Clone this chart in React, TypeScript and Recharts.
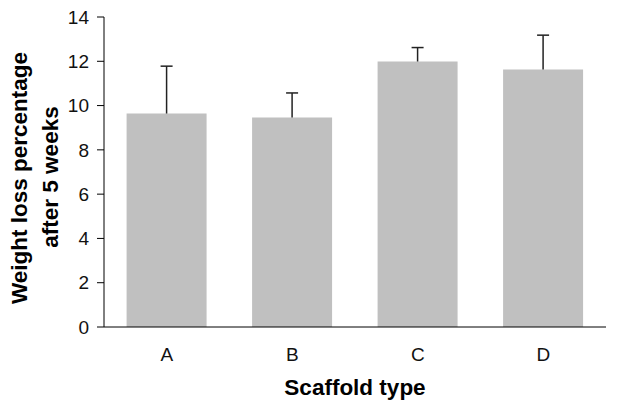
import React from "react";
import { BarChart, Bar, XAxis, YAxis, LabelList } from "recharts";

const scaffolds = ["A", "B", "C", "D"];
const weightLoss = [9.64, 9.46, 11.99, 11.63];
const errorUp = [2.14, 1.11, 0.63, 1.55];
const yTicks = [0, 2, 4, 6, 8, 10, 12, 14];
const boundaryTicks = [0, 1, 2, 3, 4];

const data = scaffolds.map((s, i) => ({
  name: s,
  value: weightLoss[i],
  err: errorUp[i],
}));

const font = "'Liberation Sans', Arial, sans-serif";

// upper-only error bar, scaled from the bar's own pixel height
const ErrorMark = (props: any) => {
  const { x, y, width, height, index } = props;
  const d = data[index];
  if (!d || !height) return null;
  const pxPerUnit = height / d.value;
  const cx = x + width / 2;
  const top = y - d.err * pxPerUnit;
  return (
    <g stroke="#222" strokeWidth={1.5}>
      <line x1={cx} y1={y} x2={cx} y2={top} />
      <line x1={cx - 6} y1={top} x2={cx + 6} y2={top} />
    </g>
  );
};

const XTick = (props: any) => {
  const { x, y, payload } = props;
  return (
    <text x={x} y={y} dy="0.71em" textAnchor="middle" fontSize={19} fontFamily={font} fill="#111">
      {payload.value}
    </text>
  );
};

const YTick = (props: any) => {
  const { x, y, payload } = props;
  return (
    <text x={x} y={y} dy="0.355em" textAnchor="end" fontSize={19} fontFamily={font} fill="#111">
      {payload.value}
    </text>
  );
};

export default function App() {
  return (
    <div style={{ position: "absolute", left: 0, top: 0, background: "#fff" }}>
      <BarChart
        width={622}
        height={401}
        data={data}
        margin={{ top: 17, right: 16, left: 44, bottom: 0 }}
        barCategoryGap="18%"
      >
        <XAxis
          xAxisId="b"
          type="number"
          domain={[0, 4]}
          ticks={boundaryTicks}
          height={0}
          axisLine={false}
          tickLine={{ stroke: "#000" }}
          tickSize={6}
          tickFormatter={() => ""}
        />
        <XAxis
          dataKey="name"
          height={74}
          axisLine={{ stroke: "#000" }}
          tickLine={false}
          tickSize={0}
          tickMargin={21}
          tick={XTick}
          label={{
            value: "Scaffold type",
            position: "insideBottom",
            offset: 6,
            style: { fill: "#000", fontSize: 22.5, fontWeight: "bold", fontFamily: font },
          }}
        />
        <YAxis
          width={60}
          domain={[0, 14]}
          ticks={yTicks}
          interval={0}
          axisLine={{ stroke: "#000" }}
          tickLine={{ stroke: "#000" }}
          tickSize={7}
          tickMargin={8}
          tick={YTick}
          label={{
            content: () => (
              <g fontFamily={font} fontWeight="bold" fontSize={22.5} fill="#000" textAnchor="middle">
                <text transform="translate(27,178) rotate(-90)">Weight loss percentage</text>
                <text transform="translate(58,177) rotate(-90)">after 5 weeks</text>
              </g>
            ),
          }}
        />
        <Bar dataKey="value" fill="#c0c0c0" isAnimationActive={false}>
          <LabelList dataKey="value" content={ErrorMark} />
        </Bar>
      </BarChart>
    </div>
  );
}
